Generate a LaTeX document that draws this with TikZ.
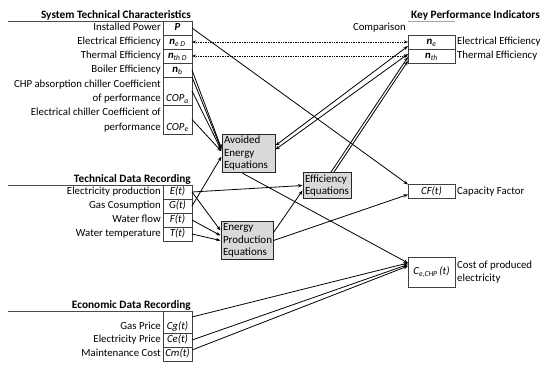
\documentclass[tikz,border=0pt]{standalone}
\usepackage{fontspec}
\setmainfont{Carlito}
\usetikzlibrary{positioning,arrows.meta}

\newcommand{\subidx}[1]{\textsubscript{\itshape #1}}

\begin{document}
\begin{tikzpicture}[
  x=1pt, y=-1pt,
  font=\fontsize{10.8}{13}\selectfont,
  cell/.style={draw=black!75, line width=0.6pt, minimum width=29pt, minimum height=14pt, inner sep=0pt, outer sep=0pt, text height=7.8pt, text depth=2.6pt, font=\fontsize{10.8}{13}\selectfont\itshape},
  kcell/.style={cell, minimum width=47pt},
  lbl/.style={inner sep=0pt},
  ttl/.style={inner sep=0pt, anchor=base east, font=\fontsize{11.3}{13}\selectfont\bfseries},
  eqbox/.style={draw=black!85, line width=1pt, fill=black!15, align=left, inner xsep=2pt, inner ysep=2pt, font=\fontsize{11}{12.5}\selectfont},
  rule/.style={draw=black!70, line width=0.6pt},
  arr/.style={line width=0.8pt, -{Stealth[length=1.6mm, width=1.2mm]}},
  biarr/.style={line width=0.8pt, {Stealth[length=1.6mm, width=1.2mm]}-{Stealth[length=1.6mm, width=1.2mm]}},
  cmp/.style={densely dotted, line width=0.7pt, {Stealth[length=1.4mm, width=1.1mm]}-{Stealth[length=1.4mm, width=1.1mm]}}
]
  \useasboundingbox (0,0) rectangle (550,368);

  % system technical characteristics
  \node[cell, anchor=north] (P) at (177.5,21) {\textbf{P}};
  \node[cell, below=0pt of P] (neD) {\textbf{n}\subidx{e D}};
  \node[cell, below=0pt of neD] (nthD) {\textbf{n}\subidx{th D}};
  \node[cell, below=0pt of nthD] (nb) {\textbf{n}\subidx{b}};
  \node[cell, below=0pt of nb, minimum height=28pt, text height=24pt] (COPa) {COP\subidx{a}};
  \node[cell, below=0pt of COPa, minimum height=29pt, text height=24pt] (COPe) {COP\subidx{e}};
  \node[ttl] (sysT) at ([xshift=-1pt, yshift=2.5pt]P.north east) {System Technical Characteristics};
  \draw[rule] (P.north east) -- ++(-184,0);
  \node[lbl, base left=2pt of P] (lP) {Installed Power};
  \node[lbl, base left=2pt of neD] (lneD) {Electrical Efficiency};
  \node[lbl, base left=2pt of nthD] (lnthD) {Thermal Efficiency};
  \node[lbl, base left=2pt of nb] (lnb) {Boiler Efficiency};
  \node[lbl, base left=2pt of COPa, align=right, font=\fontsize{10.8}{14.5}\selectfont] (lCOPa) {CHP absorption chiller Coefficient\\of performance};
  \node[lbl, base left=2pt of COPe, align=right, font=\fontsize{10.8}{14.5}\selectfont] (lCOPe) {Electrical chiller Coefficient of\\performance};

  % technical data recording
  \node[cell, anchor=north] (E) at (177.5,185) {E(t)};
  \node[cell, below=0pt of E] (G) {G(t)};
  \node[cell, below=0pt of G] (F) {F(t)};
  \node[cell, below=0pt of F] (T) {T(t)};
  \node[ttl] (tdT) at ([xshift=-1pt, yshift=2.5pt]E.north east) {Technical Data Recording};
  \draw[rule] (E.north east) -- ++(-184,0);
  \node[lbl, base left=2pt of E] (lE) {Electricity production};
  \node[lbl, base left=2pt of G] (lG) {Gas Cosumption};
  \node[lbl, base left=2pt of F] (lF) {Water flow};
  \node[lbl, base left=2pt of T] (lT) {Water temperature};

  % economic data recording
  \node[cell, anchor=north, minimum height=22pt, text height=18.5pt] (Cg) at (177.5,311) {Cg(t)};
  \node[cell, below=0pt of Cg] (Ce) {Ce(t)};
  \node[cell, below=0pt of Ce] (Cm) {Cm(t)};
  \node[ttl] (edT) at ([xshift=-1pt, yshift=2.5pt]Cg.north east) {Economic Data Recording};
  \draw[rule] (Cg.north east) -- ++(-184,0);
  \node[lbl, base left=2pt of Cg] (lCg) {Gas Price};
  \node[lbl, base left=2pt of Ce] (lCe) {Electricity Price};
  \node[lbl, base left=2pt of Cm] (lCm) {Maintenance Cost};

  % key performance indicators
  \node[kcell, anchor=north] (ne) at (431.5,35) {\textbf{n}\subidx{e}};
  \node[kcell, below=0pt of ne] (nth) {\textbf{n}\subidx{th}};
  \node[ttl, anchor=base west] (kpiT) at (411,18.5) {Key Performance Indicators};
  \draw[draw=black!35, line width=0.8pt] ([yshift=14pt]ne.north west) -- ([yshift=14pt]ne.north east);
  \node[lbl, anchor=base east] (cmpT) at (406,30.5) {Comparison};
  \node[lbl, base right=2pt of ne] (lne) {Electrical Efficiency};
  \node[lbl, base right=2pt of nth] (lnth) {Thermal Efficiency};
  \node[kcell, anchor=north] (CF) at (431.5,184.5) {CF(t)};
  \node[lbl, base right=2pt of CF] (lCF) {Capacity Factor};
  \node[kcell, anchor=north, minimum height=30pt] (C) at (431.5,257) {C\subidx{e,CHP}\,(t)};
  \node[lbl, right=2pt of C, align=left] (lC) {Cost of produced\\electricity};

  % equations
  \node[eqbox, text width=49pt] (av) at (248.5,153.5) {Avoided\\Energy\\Equations};
  \node[eqbox, text width=44pt] (eff) at (327,185.5) {Efficiency\\Equations};
  \node[eqbox, text width=48pt] (ep) at (247,240.5) {Energy\\Production\\Equations};

  % connectors
  \draw[cmp] (neD.east) -- (ne.west);
  \draw[cmp] (nthD.east) -- (nth.west);
  \draw[arr] (P.east) -- (CF.north west);
  \draw[arr] (nb.east) -- ([yshift=5pt]av.west);
  \draw[arr] (nb.south east) -- ([yshift=4pt]av.west);
  \draw[arr] (COPa.east) -- ([yshift=3pt]av.west);
  \draw[arr] (COPe.east) -- ([yshift=2pt]av.west);
  \draw[arr] (G.east) -- ([yshift=-3pt]av.west);
  \draw[arr] (E.east) -- (eff.west);
  \draw[arr] (E.east) -- ([yshift=10pt]ep.west);
  \draw[arr] (F.east) -- ([yshift=5pt]ep.west);
  \draw[arr] (T.east) -- (ep.west);
  \draw[biarr] ([yshift=8pt]av.east) -- ([yshift=-4pt]ne.west);
  \draw[biarr] ([yshift=4pt]av.east) -- ([yshift=2pt]nth.west);
  \draw[arr] ([xshift=4pt]eff.north) -- ([yshift=-1pt]nth.west);
  \draw[arr] ([xshift=7pt]eff.north) -- ([yshift=-5pt]nth.west);
  \draw[arr] ([yshift=8pt]ep.east) -- ([yshift=-5pt]eff.west);
  \draw[arr] (ep.east) -- ([yshift=-3pt]CF.west);
  \draw[arr] ([xshift=-6pt]av.south) -- ([yshift=9pt]C.west);
  \draw[arr] ([yshift=5pt]Cg.east) -- ([yshift=9pt]C.west);
  \draw[arr] (Ce.east) -- ([yshift=7.5pt]C.west);
  \draw[arr] ([yshift=4pt]Cm.east) -- ([yshift=6pt]C.west);
\end{tikzpicture}
\end{document}
